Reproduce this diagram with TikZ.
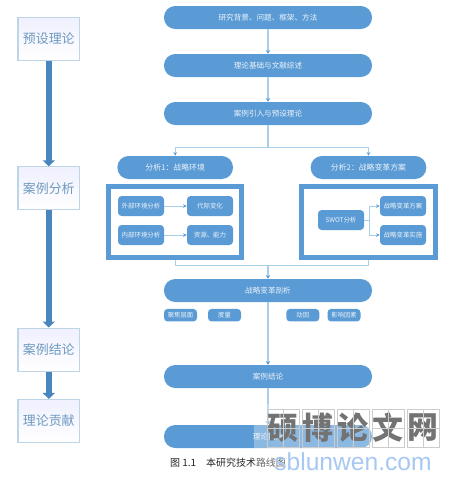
\documentclass[tikz,border=0pt]{standalone}
\usepackage{fontspec}
\setmainfont{Noto Sans CJK SC}
\newfontfamily\latinsans{Liberation Sans}
\usetikzlibrary{arrows.meta, calc}
\definecolor{pillblue}{HTML}{5B9BD5}
\definecolor{lineblue}{HTML}{A9CEE8}
\definecolor{stageblue}{HTML}{4A86BE}
\definecolor{stageedge}{HTML}{BDD5E6}
\definecolor{stagetext}{HTML}{6E9ABF}
\definecolor{siteblue}{HTML}{A6C8F2}

\begin{document}
\begin{tikzpicture}[
    stagebox/.style = {rectangle, draw=stageedge, thick, top color=blue!6!white, bottom color=white, text=stagetext, font=\fontsize{9.2}{11}\selectfont, minimum width=1.54cm, minimum height=1.075cm, inner sep=0pt},
    pill/.style = {rectangle, fill=pillblue, rounded corners=0.28cm, text=white!88!pillblue, font=\fontsize{5.4}{7}\selectfont, minimum width=5.2cm, minimum height=0.575cm, inner sep=0pt},
    subpill/.style = {pill, font=\fontsize{5.6}{7}\selectfont, minimum width=2.89cm},
    framebox/.style = {rectangle, draw=pillblue, fill=white, line width=1.25mm, minimum width=3.33cm, minimum height=1.775cm, inner sep=0pt},
    itembox/.style = {rectangle, fill=pillblue, rounded corners=0.09cm, text=white!88!pillblue, font=\fontsize{4.6}{6}\selectfont, minimum width=1.15cm, minimum height=0.5cm, inner sep=0pt},
    tagbox/.style = {itembox, font=\fontsize{4.5}{6}\selectfont, minimum width=0.825cm, minimum height=0.3125cm},
    stagearrow/.style = {draw=stageblue, line width=1.5mm, -{Triangle[length=1.5mm, width=3mm]}},
    link/.style = {draw=lineblue, line width=0.6pt},
    trunk/.style = {draw=lineblue, line width=1pt},
    arrow/.style = {draw=lineblue, line width=0.6pt, -{Stealth[length=0.9mm, width=0.9mm, color=pillblue]}},
    trunkarrow/.style = {draw=lineblue, line width=1pt, -{Stealth[length=0.9mm, width=1.1mm, color=pillblue]}},
    markcell/.style = {rectangle, draw=black!20, line width=0.4pt, minimum width=0.8cm, minimum height=0.95cm, inner sep=0pt, text=black!55, font=\fontsize{22}{22}\selectfont\bfseries}
]
\useasboundingbox (0,0) rectangle (11.4,-12);

% Stages on the left
\node (s_theory) [stagebox] at (1.22, -0.975) {预设理论};
\node (s_case) [stagebox] at (1.22, -4.71) {案例分析};
\node (s_result) [stagebox] at (1.22, -8.74) {案例结论};
\node (s_contrib) [stagebox] at (1.22, -10.525) {理论贡献};

\draw [stagearrow] (s_theory) -- (s_case);
\draw [stagearrow] (s_case) -- (s_result);
\draw [stagearrow] (s_result) -- (s_contrib);

% Main flow
\node (p_background) [pill] at (6.7, -0.4375) {研究背景、问题、框架、方法};
\node (p_review) [pill] at (6.7, -1.6375) {理论基础与文献综述};
\node (p_intro) [pill] at (6.7, -2.8375) {案例引入与预设理论};
\node (p_env) [subpill] at (4.38, -4.1875) {分析1：战略环境};
\node (p_plan) [subpill] at (9.2125, -4.1875) {分析2：战略变革方案};
\node (p_change) [pill] at (6.7, -7.2625) {战略变革剖析};
\node (p_result) [pill] at (6.7, -9.4125) {案例结论};
\node (p_contrib) [pill] at (6.7, -10.9125) {理论贡献};

% Frame: environment
\node (f_env) [framebox] at (4.375, -5.55) {};
\node (b_outer) [itembox] at (3.525, -5.15) {外部环境分析};
\node (b_gen) [itembox] at (5.25, -5.15) {代际变化};
\node (b_inner) [itembox] at (3.525, -5.875) {内部环境分析};
\node (b_res) [itembox] at (5.25, -5.875) {资源、能力};

% Frame: plan
\node (f_plan) [framebox] at (9.2125, -5.55) {};
\node (b_swot) [itembox] at (8.525, -5.5) {SWOT分析};
\node (b_scheme) [itembox] at (10.075, -5.15) {战略变革方案};
\node (b_impl) [itembox] at (10.075, -5.875) {战略变革实施};

% Tags
\node (t_focus) [tagbox] at (4.5125, -7.88) {聚焦层面};
\node (t_measure) [tagbox] at (5.6125, -7.88) {度量};
\node (t_motive) [tagbox] at (7.57, -7.88) {动因};
\node (t_factor) [tagbox] at (8.6, -7.88) {影响因素};

% Connections
\coordinate (c_split) at (6.7, -3.675);
\coordinate (c_join) at (6.7, -6.6375);
\coordinate (c_fork) at (9.23, -5.5);
\draw [trunkarrow] (p_background) -- (p_review);
\draw [trunkarrow] (p_review) -- (p_intro);
\draw [trunk] (p_intro) -- (c_split);
\draw [arrow] (c_split) -| (p_env);
\draw [arrow] (c_split) -| (p_plan);
\draw [arrow] (b_outer) -- (b_gen);
\draw [arrow] (b_inner) -- (b_res);
\draw [link] (b_swot) -- (c_fork);
\draw [arrow] (c_fork) |- (b_scheme);
\draw [arrow] (c_fork) |- (b_impl);
\draw [link] (f_env.south) |- (c_join);
\draw [link] (f_plan.south) |- (c_join);
\draw [trunkarrow] (c_join) -- (p_change);
\draw [trunkarrow] (p_change) -- (p_result);
\draw [trunkarrow] (p_result) -- (p_contrib);

% Caption
\node (n_caption) [font=\fontsize{7.1}{8}\selectfont, text=black!85, inner sep=0pt] at (5.7, -11.575) {图 1.1\quad 本研究技术路线图};

% Site mark
\fill [white, opacity=0.3] (6.35, -10.1) rectangle (11, -11.75);
\foreach \i/\t in {0/硕, 1/博, 2/论, 3/文, 4/网} {
    \node (m_\i) [markcell] at ({7.075 + 0.875*\i}, -10.7) {\t};
    \draw [black!20, line width=0.3pt] (m_\i.north) -- (m_\i.south);
    \draw [black!20, line width=0.3pt] (m_\i.west) -- (m_\i.east);
}
\node (m_site) [text=siteblue, font=\latinsans\fontsize{17.5}{18}\selectfont, inner sep=0pt] at (8.825, -11.55) {sblunwen.com};

\end{tikzpicture}
\end{document}
